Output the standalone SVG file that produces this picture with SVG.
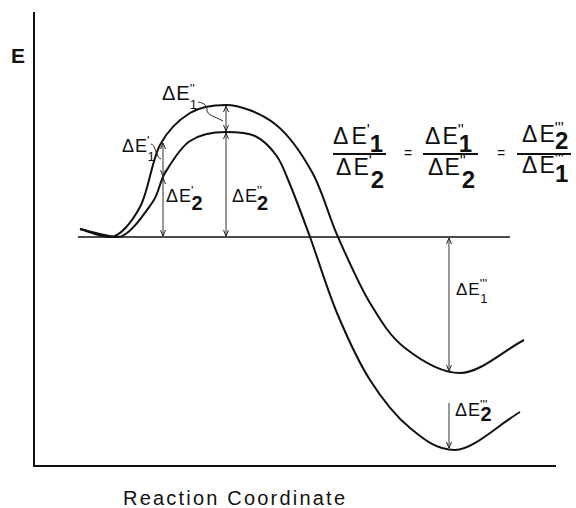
<svg xmlns="http://www.w3.org/2000/svg" width="576" height="508" viewBox="0 0 576 508">
<defs>
<style>
.axis{fill:none;stroke:#111;stroke-width:2}
.curve{fill:none;stroke:#111;stroke-width:2}
.base{fill:none;stroke:#111;stroke-width:1.6}
.arr{fill:none;stroke:#333;stroke-width:1;marker-start:url(#ah);marker-end:url(#ah)}
.arr1{fill:none;stroke:#333;stroke-width:1;marker-end:url(#ah)}
.lead{fill:none;stroke:#222;stroke-width:1}
text{font-family:"Liberation Sans",Arial,sans-serif;fill:#111}
.big{font-size:23px}
.bd{font-size:24px;font-weight:bold}
.pr{font-size:16px}
.sm{font-size:18px}
.smb{font-size:20px;font-weight:bold}
.sp{font-size:13px}
.bar{stroke:#111;stroke-width:2}
</style>
<marker id="ah" viewBox="0 0 6 6" refX="6" refY="3" markerWidth="6" markerHeight="6" orient="auto-start-reverse" markerUnits="userSpaceOnUse"><path d="M0,0.5 L6,3 L0,5.5" fill="none" stroke="#222" stroke-width="1"/></marker>
</defs>

<g id="axes">
<path class="axis" d="M34,12 V466 H556"/>
<text x="11" y="63" style="font-size:21px;font-weight:bold">E</text>
<text x="123" y="505" style="font-size:20px" textLength="222" lengthAdjust="spacing">Reaction Coordinate</text>
</g>

<g id="baseline">
<path class="base" d="M78,237 H510"/>
</g>

<g id="curve-upper">
<path class="curve" d="M80,229 C90,231.7 100,237 110,237 C120,237 131.7,222.3 140,207 C148.3,191.7 151.7,160.7 160,145 C168.3,129.3 179,119.7 190,113 C201,106.3 213,105 226,105 C239,105 260.7,112.8 275,124 C289.3,135.2 301.5,153.2 312,172 C322.5,190.8 328.3,215.2 338,237 C347.7,258.8 358.8,284.5 370,303 C381.2,321.5 390,336.3 405,348 C420,359.7 440,373 460,373 C480,373 503,351 524,340"/>
</g>

<g id="curve-lower">
<path class="curve" d="M80,229 C92.7,231.7 107,237 118,237 C129,237 144.2,213.7 152,203 C159.8,192.3 158.7,183.3 165,173 C171.3,162.7 179.8,147.8 190,141 C200.2,134.2 215.2,132 226,132 C236.8,132 246.7,132.2 255,136 C263.3,139.8 270.3,147.3 276,155 C281.7,162.7 283.3,168.3 289,182 C294.7,195.7 302,215.2 310,237 C318,258.8 327,289.2 337,313 C347,336.8 357.8,360.8 370,380 C382.2,399.2 395.8,416.3 410,428 C424.2,439.7 436.7,450 455,450 C473.3,450 498.3,424.7 520,412"/>
</g>

<g id="connectors">
<path class="arr" d="M163,236 V178"/>
<path class="arr" d="M163,176 V143"/>
<path class="arr" d="M226,236 V133"/>
<path class="arr" d="M226,131 V106"/>
<path class="arr" d="M449,238 V371"/>
<path class="arr1" d="M449,403 V448"/>
<path class="lead" d="M198,102 C205,103 207,106 207,110 C207,115 214,116 223,121"/>
<path class="lead" d="M151,144 C155,145 155,151 157,154 C158,157 159,158 161,159"/>
</g>

<g id="label-dE1p">
<text class="sm" x="122" y="152">Δ<tspan dx="1">E</tspan><tspan class="sp" dy="-7">'</tspan><tspan class="sp" dx="-2" dy="16">1</tspan></text>
</g>
<g id="label-dE1pp">
<text style="font-size:20px" x="162" y="100">Δ<tspan dx="1">E</tspan><tspan class="sp" dy="-7">''</tspan><tspan class="sp" dx="-5" dy="16">1</tspan></text>
</g>
<g id="label-dE2p">
<text class="sm" x="166" y="202">Δ<tspan dx="1">E</tspan><tspan class="sp" dy="-7">'</tspan><tspan class="smb" dx="-2" dy="15">2</tspan></text>
</g>
<g id="label-dE2pp">
<text class="sm" x="232" y="202">Δ<tspan dx="1">E</tspan><tspan class="sp" dy="-7">''</tspan><tspan class="smb" dx="-5" dy="15">2</tspan></text>
</g>
<g id="label-dE1ppp">
<text style="font-size:17px" x="456" y="295">Δ<tspan dx="1">E</tspan><tspan class="sp" dy="-7">'''</tspan><tspan class="sp" dx="-7" dy="15">1</tspan></text>
</g>
<g id="label-dE2ppp">
<text class="sm" x="455" y="416">Δ<tspan dx="1">E</tspan><tspan class="sp" dy="-7">'''</tspan><tspan class="smb" dx="-7" dy="12">2</tspan></text>
</g>

<g id="ratio">
<text class="big" x="333" y="144">Δ<tspan dx="3">E</tspan><tspan class="pr" dy="-8">'</tspan><tspan class="bd" dx="0" dy="16">1</tspan></text>
<line class="bar" x1="333" y1="154" x2="386" y2="154"/>
<text class="big" x="336" y="175">Δ<tspan dx="2">E</tspan><tspan class="pr" dy="-8">'</tspan><tspan class="bd" dx="-1" dy="21">2</tspan></text>

<text style="font-size:14px" x="404" y="158">=</text>

<text class="big" x="425" y="144">Δ<tspan dx="2">E</tspan><tspan class="pr" dy="-8">''</tspan><tspan class="bd" dx="-5" dy="16">1</tspan></text>
<line class="bar" x1="423" y1="154" x2="478" y2="154"/>
<text class="big" x="428" y="175">Δ<tspan dx="1">E</tspan><tspan class="pr" dy="-8">''</tspan><tspan class="bd" dx="-4" dy="21">2</tspan></text>

<text style="font-size:14px" x="497" y="158">=</text>

<text class="big" x="522" y="142">Δ<tspan dx="2">E</tspan><tspan class="pr" dy="-8">'''</tspan><tspan class="bd" dx="-9" dy="15">2</tspan></text>
<line class="bar" x1="517" y1="154" x2="571" y2="154"/>
<text class="big" x="522" y="173">Δ<tspan dx="2">E</tspan><tspan class="pr" dy="-8">'''</tspan><tspan class="bd" dx="-9" dy="17">1</tspan></text>
</g>
</svg>
